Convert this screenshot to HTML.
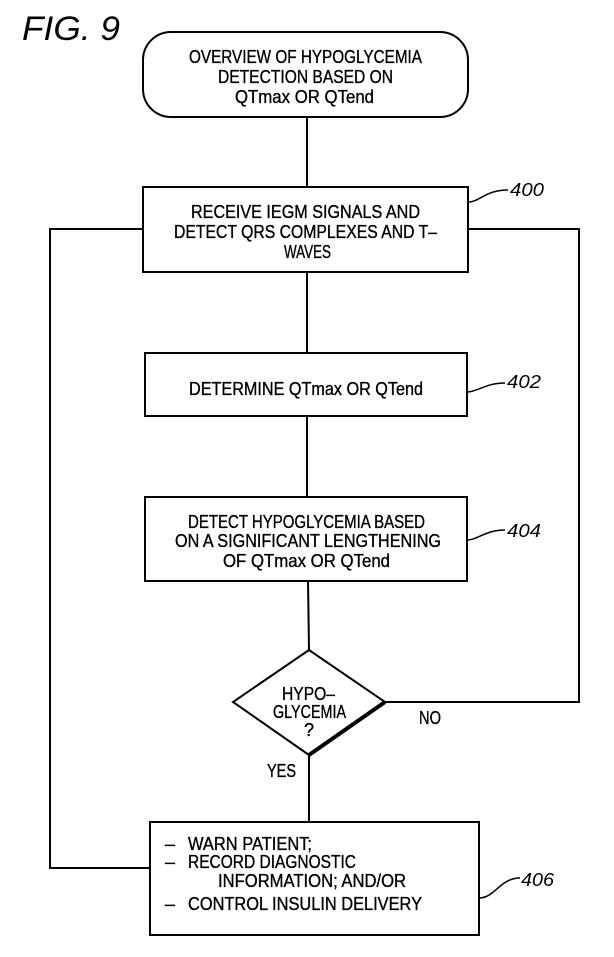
<!DOCTYPE html>
<html><head><meta charset="utf-8"><style>
html,body{margin:0;padding:0;background:#fff;}
svg{display:block;}
text{font-family:"Liberation Sans",sans-serif;font-size:18px;fill:#000;stroke:#000;stroke-width:0.35;}
text.n{stroke-width:0;}
</style></head><body>
<svg width="614" height="957" viewBox="0 0 614 957" xmlns="http://www.w3.org/2000/svg">
<g fill="none" stroke="#000" stroke-width="2">
<rect x="143" y="32" width="325" height="85" rx="28" ry="28"/>
<rect x="143" y="187" width="325" height="85"/>
<rect x="145" y="353" width="322" height="63"/>
<rect x="145" y="497" width="322" height="84"/>
<rect x="150" y="822" width="329" height="113"/>
<path d="M309 650 L385 702 L309 755 L233 702 Z"/>
<path d="M385 702 L309 755" stroke-width="4"/>
<line x1="307" y1="117" x2="307" y2="187"/>
<line x1="307" y1="272" x2="307" y2="353"/>
<line x1="307" y1="416" x2="307" y2="497"/>
<line x1="308" y1="581" x2="309" y2="650"/>
<line x1="309" y1="755" x2="309" y2="822"/>
<polyline points="150,868 50,868 50,229 143,229"/>
<polyline points="385,702 579,702 579,229 468,229"/>
<path d="M468 202 C480 202 485 190 508 190" stroke-width="1.5"/>
<path d="M467 392 C478 392 485 383 505 383" stroke-width="1.5"/>
<path d="M467 540 C478 540 485 530 505 530" stroke-width="1.5"/>
<path d="M479 898 C495 898 500 878 520 878" stroke-width="1.5"/>
</g>
<text class="n" x="22" y="40" style="font-size:34px;font-style:italic" textLength="98" lengthAdjust="spacingAndGlyphs">FIG.  9</text>
<text x="189" y="63" textLength="233" lengthAdjust="spacingAndGlyphs">OVERVIEW OF HYPOGLYCEMIA</text>
<text x="218" y="83" textLength="175" lengthAdjust="spacingAndGlyphs">DETECTION BASED ON</text>
<text x="235" y="103" textLength="139" lengthAdjust="spacingAndGlyphs">QTmax OR QTend</text>
<text x="191" y="218" textLength="229" lengthAdjust="spacingAndGlyphs">RECEIVE IEGM SIGNALS AND</text>
<text x="174" y="238" textLength="263" lengthAdjust="spacingAndGlyphs">DETECT QRS COMPLEXES AND T–</text>
<text x="284" y="258" textLength="47" lengthAdjust="spacingAndGlyphs">WAVES</text>
<text x="189" y="395" textLength="234" lengthAdjust="spacingAndGlyphs">DETERMINE QTmax OR QTend</text>
<text x="188" y="528" textLength="237" lengthAdjust="spacingAndGlyphs">DETECT HYPOGLYCEMIA BASED</text>
<text x="175" y="547" textLength="266" lengthAdjust="spacingAndGlyphs">ON A SIGNIFICANT LENGTHENING</text>
<text x="223" y="567" textLength="167" lengthAdjust="spacingAndGlyphs">OF QTmax OR QTend</text>
<text x="282" y="700" textLength="53" lengthAdjust="spacingAndGlyphs">HYPO–</text>
<text x="273" y="718" textLength="73" lengthAdjust="spacingAndGlyphs">GLYCEMIA</text>
<text x="304" y="736">?</text>
<text x="419" y="724" textLength="22" lengthAdjust="spacingAndGlyphs">NO</text>
<text x="267" y="777" textLength="29" lengthAdjust="spacingAndGlyphs">YES</text>
<text x="165" y="850">–</text>
<text x="188" y="850" textLength="124" lengthAdjust="spacingAndGlyphs">WARN PATIENT;</text>
<text x="165" y="868">–</text>
<text x="188" y="868" textLength="168" lengthAdjust="spacingAndGlyphs">RECORD DIAGNOSTIC</text>
<text x="218" y="887" textLength="188" lengthAdjust="spacingAndGlyphs">INFORMATION; AND/OR</text>
<text x="165" y="910">–</text>
<text x="188" y="910" textLength="234" lengthAdjust="spacingAndGlyphs">CONTROL INSULIN DELIVERY</text>
<text class="n" x="510" y="196" style="font-style:italic" textLength="34" lengthAdjust="spacingAndGlyphs">400</text>
<text class="n" x="507" y="388" style="font-style:italic" textLength="34" lengthAdjust="spacingAndGlyphs">402</text>
<text class="n" x="507" y="537" style="font-style:italic" textLength="34" lengthAdjust="spacingAndGlyphs">404</text>
<text class="n" x="521" y="886" style="font-style:italic" textLength="33" lengthAdjust="spacingAndGlyphs">406</text>
</svg>
</body></html>
